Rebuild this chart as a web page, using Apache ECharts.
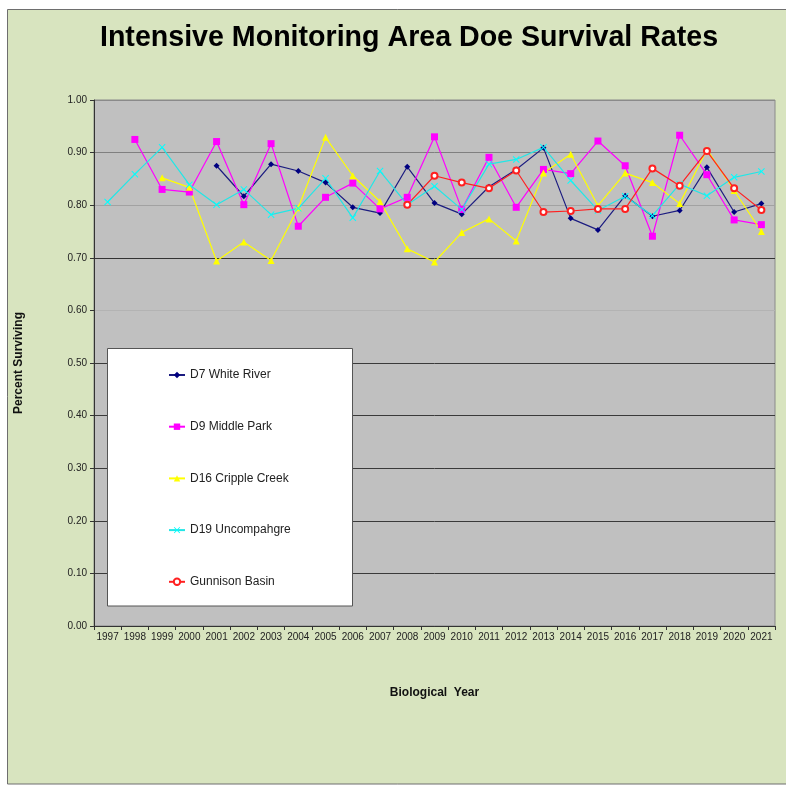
<!DOCTYPE html>
<html>
<head>
<meta charset="utf-8">
<script src="https://cdn.jsdelivr.net/npm/echarts@6/dist/echarts.min.js"></script>
<style>
html,body{margin:0;padding:0;background:#ffffff;}
#chart{width:786px;height:785px;}
</style>
</head>
<body>
<div id="chart"></div>
<script>
const years = ['1997','1998','1999','2000','2001','2002','2003','2004','2005','2006','2007','2008','2009','2010','2011','2012','2013','2014','2015','2016','2017','2018','2019','2020','2021'];
const yTicks = [0, 0.1, 0.2, 0.3, 0.4, 0.5, 0.6, 0.7, 0.8, 0.9, 1.0];

const d7WhiteRiver = [null, null, null, null, 0.875, 0.817, 0.878, 0.865, 0.843, 0.796, 0.785, 0.873, 0.804, 0.783, 0.835, 0.868, 0.909, 0.775, 0.753, 0.818, 0.779, 0.790, 0.872, 0.787, 0.803];
const d9MiddlePark = [null, 0.925, 0.830, 0.825, 0.921, 0.801, 0.917, 0.760, 0.815, 0.842, 0.793, 0.815, 0.930, 0.792, 0.891, 0.796, 0.868, 0.860, 0.922, 0.875, 0.741, 0.933, 0.858, 0.772, 0.763];
const d16CrippleCreek = [null, null, 0.852, 0.834, 0.694, 0.730, 0.695, 0.795, 0.929, 0.856, 0.807, 0.717, 0.692, 0.748, 0.774, 0.732, 0.861, 0.897, 0.799, 0.861, 0.843, 0.803, 0.906, 0.828, 0.750];
const d19Uncompahgre = [0.806, 0.859, 0.910, 0.839, 0.801, 0.830, 0.782, 0.794, 0.851, 0.776, 0.865, 0.801, 0.836, 0.792, 0.878, 0.887, 0.910, 0.847, 0.790, 0.817, 0.780, 0.840, 0.818, 0.853, 0.864];
const gunnisonBasin = [null, null, null, null, null, null, null, null, null, null, null, 0.801, 0.856, 0.843, 0.832, 0.866, 0.787, 0.789, 0.793, 0.793, 0.870, 0.837, 0.903, 0.832, 0.791];

const seriesNames = ['D7 White River', 'D9 Middle Park', 'D16 Cripple Creek', 'D19 Uncompahgre', 'Gunnison Basin'];

const xSymbol = 'path://M0,1L1,0L5,4L9,0L10,1L6,5L10,9L9,10L5,6L1,10L0,9L4,5Z';
const narrow = "'Liberation Sans Narrow', 'Liberation Sans', Arial, sans-serif";
const sans = "'Liberation Sans', Arial, sans-serif";

const chart = echarts.init(document.getElementById('chart'), null, {renderer: 'canvas'});

function mkSeries(name, data, color, symbol, size, extra) {
  return Object.assign({
    name: name,
    type: 'line',
    data: data,
    symbol: symbol,
    symbolSize: size,
    showSymbol: true,
    connectNulls: false,
    animation: false,
    color: color,
    lineStyle: {color: color, width: 1.2},
    itemStyle: {color: color},
    emphasis: {disabled: true}
  }, extra || {});
}

const option = {
  animation: false,
  backgroundColor: '#ffffff',
  graphic: [
    {type: 'rect', z: -10, silent: true, shape: {x: 7.5, y: 9.5, width: 790, height: 774.5}, style: {fill: '#d8e4bf', stroke: '#6e6e6e', lineWidth: 1}},
    {type: 'rect', z: 5, silent: true, shape: {x: 107.5, y: 348.5, width: 245, height: 257.5}, style: {fill: '#ffffff', stroke: '#555555', lineWidth: 1}}
  ],
  title: {
    text: 'Intensive Monitoring Area Doe Survival Rates',
    left: 404,
    textAlign: 'center',
    top: 19,
    textStyle: {fontFamily: sans, fontWeight: 'bold', fontSize: 28.6, color: '#000000'}
  },
  legend: {
    orient: 'vertical',
    left: 163,
    top: 364,
    z: 10,
    itemWidth: 16,
    itemHeight: 8,
    itemGap: 39.7,
    data: seriesNames,
    textStyle: {fontFamily: sans, fontSize: 12, color: '#222222'}
  },
  grid: {
    left: 94,
    right: 11,
    top: 100,
    bottom: 159,
    show: true,
    backgroundColor: '#c0c0c0',
    borderColor: '#8a8a8a',
    borderWidth: 1
  },
  xAxis: {
    type: 'category',
    data: years,
    boundaryGap: true,
    name: 'Biological  Year',
    nameLocation: 'middle',
    nameGap: 61,
    nameTextStyle: {fontFamily: sans, fontWeight: 'bold', fontSize: 12, color: '#111111'},
    axisLine: {show: true, lineStyle: {color: '#333333', width: 1}},
    axisTick: {show: true, length: 4, lineStyle: {color: '#333333'}},
    axisLabel: {fontFamily: narrow, fontSize: 10, color: '#222222', margin: 6, interval: 0},
    splitLine: {show: false}
  },
  yAxis: {
    type: 'value',
    min: 0,
    max: 1,
    interval: 0.1,
    name: 'Percent Surviving',
    nameLocation: 'middle',
    nameGap: 69,
    nameRotate: 90,
    nameTextStyle: {fontFamily: sans, fontWeight: 'bold', fontSize: 12, color: '#111111'},
    axisLine: {show: true, lineStyle: {color: '#333333', width: 1}},
    axisTick: {show: true, length: 4, lineStyle: {color: '#333333'}},
    axisLabel: {fontFamily: narrow, fontSize: 10, color: '#222222', margin: 7,
      formatter: function (v) { return v.toFixed(2); }},
    splitLine: {show: true, lineStyle: {width: 1,
      color: ['#333333', '#3a3a3a', '#3a3a3a', '#3a3a3a', '#3a3a3a', '#3a3a3a', '#b3b3b3', '#333333', '#a2a2a2', '#808080', '#8a8a8a']}}
  },
  series: [
    mkSeries(seriesNames[0], d7WhiteRiver, '#000080', 'diamond', 6, {lineStyle: {color: '#1c1c80', width: 1.2}}),
    mkSeries(seriesNames[1], d9MiddlePark, '#ff00ff', 'rect', 7),
    mkSeries(seriesNames[2], d16CrippleCreek, '#ffff00', 'triangle', 7),
    mkSeries(seriesNames[3], d19Uncompahgre, '#00ffff', xSymbol, 7, {lineStyle: {color: '#22e6e6', width: 1.2}}),
    mkSeries(seriesNames[4], gunnisonBasin, '#ff2020', 'emptyCircle', 6, {itemStyle: {color: '#ff2020', borderColor: '#ff2020', borderWidth: 1.2}})
  ]
};
chart.setOption(option);
</script>
</body>
</html>
